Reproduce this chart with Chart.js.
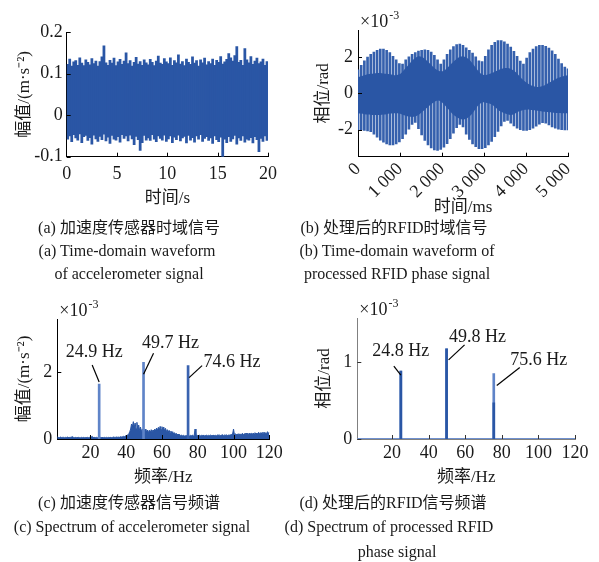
<!DOCTYPE html>
<html>
<head>
<meta charset="utf-8">
<script src="https://cdn.jsdelivr.net/npm/chart.js@4.4.1/dist/chart.umd.min.js"></script>
<style>
html, body { margin: 0; padding: 0; background: #fff; }
#page { position: relative; width: 599px; height: 562px; overflow: hidden;
        font-family: "Liberation Serif", "Noto Sans CJK SC", serif; color: #1a1a1a; }
canvas { position: absolute; left: 0; top: 0; }
.cap { position: absolute; font-size: 16px; line-height: 16px; white-space: nowrap; transform: translateX(-50%); }
</style>
</head>
<body>
<div id="page">
  <canvas id="ga" width="599" height="562"></canvas>
  <canvas id="gb" width="599" height="562"></canvas>
  <canvas id="gc" width="599" height="562"></canvas>
  <canvas id="gd" width="599" height="562"></canvas>

  <div class="cap" style="left:129px;top:220px">(a) 加速度传感器时域信号</div>
  <div class="cap" style="left:127px;top:243px">(a) Time-domain waveform</div>
  <div class="cap" style="left:129px;top:266px">of accelerometer signal</div>
  <div class="cap" style="left:394px;top:220px">(b) 处理后的RFID时域信号</div>
  <div class="cap" style="left:397px;top:243px">(b) Time-domain waveform of</div>
  <div class="cap" style="left:397px;top:266px">processed RFID phase signal</div>
  <div class="cap" style="left:129px;top:495px">(c) 加速度传感器信号频谱</div>
  <div class="cap" style="left:132px;top:519px">(c) Spectrum of accelerometer signal</div>
  <div class="cap" style="left:393px;top:495px">(d) 处理后的RFID信号频谱</div>
  <div class="cap" style="left:389px;top:519px">(d) Spectrum of processed RFID</div>
  <div class="cap" style="left:397px;top:544px">phase signal</div>
</div>

<script>
// ---- (a) 加速度传感器时域信号: 每 0.2 s 一段的上/下包络 (m/s^2)
const aStep = 0.2;
const aTop = [
  .122,.135,.118,.128,.131,.120,.138,.125,.119,.133,
  .127,.121,.136,.124,.130,.118,.129,.140,.167,.126,
  .120,.132,.125,.137,.119,.128,.134,.122,.130,.150,
  .124,.131,.118,.127,.139,.123,.129,.120,.133,.126,
  .121,.134,.127,.119,.130,.142,.125,.122,.136,.128,
  .124,.138,.120,.131,.126,.145,.123,.129,.119,.135,
  .127,.122,.140,.125,.131,.118,.133,.126,.137,.121,
  .129,.124,.135,.120,.132,.127,.141,.123,.128,.134,
  .148,.138,.130,.143,.165,.127,.132,.120,.160,.133,
  .126,.141,.122,.130,.137,.124,.128,.135,.120,.129
];
const aBot = [
  -.058,-.050,-.064,-.047,-.055,-.060,-.045,-.066,-.052,-.049,
  -.061,-.054,-.070,-.048,-.057,-.063,-.051,-.059,-.046,-.062,
  -.053,-.068,-.049,-.058,-.060,-.052,-.065,-.047,-.056,-.050,
  -.062,-.048,-.057,-.071,-.051,-.059,-.085,-.066,-.049,-.060,
  -.055,-.061,-.047,-.058,-.064,-.050,-.056,-.060,-.048,-.063,
  -.057,-.050,-.066,-.053,-.059,-.048,-.062,-.055,-.051,-.067,
  -.049,-.060,-.054,-.065,-.050,-.058,-.047,-.063,-.056,-.052,
  -.061,-.055,-.068,-.050,-.059,-.064,-.053,-.100,-.058,-.066,
  -.052,-.063,-.057,-.049,-.070,-.055,-.061,-.050,-.065,-.058,
  -.060,-.054,-.067,-.052,-.059,-.088,-.056,-.063,-.050,-.061
];
const aXTicks = [0, 5, 10, 15, 20];
const aYTicks = [-0.1, 0, 0.1, 0.2];

// ---- (b) 处理后的RFID时域信号: 包络 (x10^-3 rad), 67 个等间隔时刻 0..5000 ms
const bStep = 5000 / 66;
const bOuterTop = [
  1.30,1.55,1.80,2.00,2.15,2.28,2.38,2.44,2.45,2.38,2.25,2.05,1.85,1.65,1.62,1.85,2.02,
  2.15,2.25,2.33,2.38,2.40,2.38,2.28,2.10,1.85,1.62,1.85,2.15,2.40,2.58,2.70,2.72,2.65,
  2.52,2.38,2.22,2.02,1.80,1.75,2.05,2.40,2.65,2.82,2.92,2.92,2.85,2.72,2.55,2.32,2.05,
  1.78,1.62,1.95,2.25,2.45,2.58,2.65,2.65,2.60,2.50,2.35,2.15,1.90,1.65,1.45,1.35
];
const bOuterBot = [
  -2.00,-2.02,-2.05,-2.08,-2.12,-2.25,-2.42,-2.58,-2.70,-2.80,-2.85,-2.85,-2.80,-2.68,-2.50,-2.25,-1.98,
  -1.72,-1.60,-1.95,-2.30,-2.60,-2.85,-3.02,-3.12,-3.15,-3.10,-2.98,-2.78,-2.50,-2.20,-1.90,-1.72,-1.85,
  -2.25,-2.55,-2.80,-2.95,-3.05,-3.05,-3.00,-2.85,-2.65,-2.40,-2.10,-1.80,-1.55,-1.50,-1.65,-1.80,-1.92,
  -2.00,-2.05,-2.05,-2.00,-1.92,-1.82,-1.70,-1.62,-1.65,-1.75,-1.85,-1.92,-1.98,-2.00,-2.02,-2.02
];
const bInnerTop = [
  0.90,0.95,1.00,1.05,1.08,1.10,1.12,1.12,1.10,1.08,1.05,1.02,1.00,1.05,1.20,1.40,1.60,
  1.80,1.95,2.05,2.02,1.90,1.75,1.58,1.40,1.28,1.22,1.25,1.40,1.58,1.75,1.90,2.02,2.05,
  1.98,1.85,1.65,1.42,1.20,1.05,1.00,1.05,1.12,1.20,1.28,1.35,1.40,1.40,1.35,1.25,1.10,
  0.90,0.72,0.58,0.48,0.40,0.35,0.35,0.40,0.48,0.58,0.68,0.78,0.86,0.92,0.97,1.00
];
const bInnerBot = [
  -1.10,-1.12,-1.15,-1.17,-1.18,-1.20,-1.20,-1.19,-1.17,-1.15,-1.12,-1.10,-1.10,-1.12,-1.18,-1.24,-1.28,
  -1.30,-1.28,-1.20,-1.05,-0.90,-0.75,-0.60,-0.48,-0.40,-0.45,-0.60,-0.80,-1.00,-1.18,-1.30,-1.40,-1.45,
  -1.40,-1.28,-1.10,-0.85,-0.62,-0.50,-0.50,-0.55,-0.62,-0.75,-0.90,-1.02,-1.10,-1.16,-1.20,-1.15,-1.05,
  -0.98,-0.92,-0.90,-0.90,-0.92,-0.95,-0.97,-1.00,-1.02,-1.05,-1.06,-1.08,-1.09,-1.10,-1.10,-1.10
];
const bXTicks = [0, 1000, 2000, 3000, 4000, 5000];
const bYTicks = [-2, 0, 2];

// ---- (c) 加速度传感器信号频谱 (x10^-3 m/s^2), 0.5 Hz 分辨率, 0.5..120 Hz
const cStep = 0.5;
const cFloor = [
  .05,.04,.06,.05,.04,.05,.06,.04,.05,.05,
  .04,.05,.04,.06,.05,.04,.05,.05,.06,.07,
  .05,.04,.05,.04,.05,.04,.05,.04,.04,.05,
  .04,.05,.04,.04,.05,.04,.05,.04,.05,.04,
  .06,.08,.05,.04,.05,.04,.05,.04,.05,.05,
  .05,.04,.05,.04,.04,.05,.04,.05,.04,.05,
  .04,.05,.05,.04,.05,.06,.05,.05,.06,.05,
  .06,.05,.06,.07,.06,.07,.08,.07,.09,.10,
  .11,.13,.16,.22,.30,.45,.38,.52,.35,.48,
  .30,.50,.28,.42,.25,.36,.22,.30,.20,.28,
  .22,.30,.20,.27,.19,.26,.20,.28,.21,.27,
  .22,.30,.24,.33,.26,.35,.27,.38,.28,.37,
  .26,.36,.24,.32,.22,.28,.20,.26,.18,.24,
  .17,.22,.15,.19,.14,.17,.12,.15,.11,.13,
  .10,.12,.09,.11,.09,.10,.09,.11,.08,.10,
  .09,.11,.10,.12,.09,.10,.30,.12,.09,.11,
  .10,.12,.09,.11,.10,.12,.09,.11,.10,.12,
  .09,.11,.10,.12,.10,.11,.09,.12,.10,.11,
  .10,.12,.11,.13,.10,.12,.11,.13,.10,.12,
  .11,.13,.10,.12,.11,.13,.12,.14,.15,.30,
  .13,.16,.12,.15,.13,.16,.12,.15,.14,.17,
  .13,.16,.14,.18,.13,.17,.14,.18,.15,.17,
  .14,.18,.15,.19,.14,.18,.15,.20,.16,.19,
  .15,.20,.16,.21,.15,.19,.16,.22,.17,.20
];
const cPeakFreq = [24.9, 49.7, 74.6];
const cPeakAmp = [1.65, 2.3, 2.2];
const cPeakText = ['24.9 Hz', '49.7 Hz', '74.6 Hz'];
const cXTicks = [20, 40, 60, 80, 100, 120];
const cYTicks = [0, 2];

// ---- (d) 处理后的RFID信号频谱 (x10^-3 rad)
const dPeakFreq = [24.8, 49.8, 75.6];
const dPeakAmp = [0.88, 1.17, 0.85];
const dPeakDark = [0.88, 1.17, 0.47];
const dPeakText = ['24.8 Hz', '49.8 Hz', '75.6 Hz'];
const dFloorFreq = [1, 120];
const dFloorAmp = [0, 0];
const dXTicks = [20, 40, 60, 80, 100, 120];
const dYTicks = [0, 1];

const BLUE = '#2a56a5';
const LIGHT = '#5f84c8';
const FONT = '"Liberation Serif", "Noto Sans CJK SC", serif';
const INK = '#1a1a1a';

Chart.defaults.font.family = FONT;
Chart.defaults.color = INK;

function fixTicks(list) {
  return s => { s.ticks = list.map(v => ({ value: v })); };
}

// 内侧刻度线 + 指数标注 + 峰值标注
const extras = {
  id: 'extras',
  afterDatasetsDraw(chart, args, o) {
    const { ctx, chartArea: a, scales: { x, y } } = chart;
    ctx.save();
    ctx.strokeStyle = o.tickColor || '#000';
    ctx.lineWidth = 1;
    ctx.beginPath();
    x.ticks.forEach(t => {
      const px = Math.round(x.getPixelForValue(t.value)) + 0.5;
      if (px > a.left + 2) { ctx.moveTo(px, a.bottom); ctx.lineTo(px, a.bottom - 4); }
    });
    y.ticks.forEach(t => {
      const py = Math.round(y.getPixelForValue(t.value)) + 0.5;
      ctx.moveTo(a.left, py); ctx.lineTo(a.left + 4, py);
    });
    ctx.stroke();

    if (o.exponent) {
      ctx.fillStyle = INK;
      ctx.textBaseline = 'alphabetic';
      ctx.textAlign = 'left';
      ctx.font = '18px ' + FONT;
      const bx = a.left + 2, by = a.top - 3;
      ctx.fillText('×10', bx, by);
      const w = ctx.measureText('×10').width;
      ctx.font = '12px ' + FONT;
      ctx.fillText('-3', bx + w + 1, by - 8);
    }

    (o.notes || []).forEach(n => {
      const px = x.getPixelForValue(n.x), py = y.getPixelForValue(n.y);
      ctx.strokeStyle = '#000';
      ctx.lineWidth = 1.2;
      ctx.beginPath();
      ctx.moveTo(px + n.l[0], py + n.l[1]);
      ctx.lineTo(px + n.l[2], py + n.l[3]);
      ctx.stroke();
      ctx.fillStyle = INK;
      ctx.font = '18px ' + FONT;
      ctx.textAlign = 'center';
      ctx.textBaseline = 'middle';
      ctx.fillText(n.text, px + n.t[0], py + n.t[1]);
    });
    ctx.restore();
  }
};

// 画布全页, 用 padding 和固定轴宽把绘图区放到原图位置
function layoutFor(box, padL, xBottom) {
  return {
    padding: { left: padL, right: 599 - box.right, top: box.top, bottom: 562 - xBottom },
    yWidth: box.left - padL,
    xHeight: xBottom - box.bottom
  };
}

function baseOptions(L, xs, ys, plug) {
  return {
    responsive: false,
    animation: false,
    events: [],
    layout: { padding: L.padding },
    plugins: { legend: { display: false }, tooltip: { enabled: false }, extras: plug },
    scales: {
      x: Object.assign({
        type: 'linear',
        offset: false,
        grid: { display: false, drawTicks: false },
        border: { display: true, color: plug.axisColor || '#000', width: 1 },
        afterFit: s => { s.height = L.xHeight; }
      }, xs),
      y: Object.assign({
        type: 'linear',
        grid: { display: false, drawTicks: false },
        border: { display: true, color: plug.axisColor || '#000', width: 1 },
        afterFit: s => { s.width = L.yWidth; }
      }, ys)
    }
  };
}

const tickFont = { size: 18, family: FONT };
const titleFont = { size: 17, family: FONT };

// ---------- (a)
(function () {
  const L = layoutFor({ left: 66.7, right: 268, top: 32, bottom: 156.7 }, 0, 208.5);
  new Chart(document.getElementById('ga'), {
    type: 'line',
    data: { datasets: [{
      type: 'bar',
      data: aTop.map((v, i) => ({ x: i * aStep + aStep / 2, y: [aBot[i], v] })),
      backgroundColor: BLUE, barThickness: 2.1, grouped: false
    }] },
    options: baseOptions(L,
      { min: 0, max: 20, afterBuildTicks: fixTicks(aXTicks),
        ticks: { font: tickFont, padding: 7, maxRotation: 0 },
        title: { display: true, text: '时间/s', font: titleFont, padding: { top: 0, bottom: 0 } } },
      { min: -0.1, max: 0.2, afterBuildTicks: fixTicks(aYTicks),
        ticks: { font: tickFont, padding: 4, callback: v => v === 0 ? '0' : v.toFixed(1) },
        title: { display: true, text: '幅值/(m·s⁻²)', font: titleFont, padding: { top: 14, bottom: 0 } } },
      {}),
    plugins: [extras]
  });
})();

// ---------- (b)
(function () {
  const t = bOuterTop.map((v, i) => i * bStep);
  const L = layoutFor({ left: 358, right: 568, top: 30, bottom: 156.7 }, 300, 217.5);
  new Chart(document.getElementById('gb'), {
    type: 'line',
    data: {
      datasets: [
        { data: bInnerTop.map((v, i) => ({ x: t[i], y: v })), borderWidth: 0, borderColor: BLUE,
          backgroundColor: BLUE, pointRadius: 0, fill: '+1', tension: 0.3 },
        { data: bInnerBot.map((v, i) => ({ x: t[i], y: v })), borderWidth: 0, borderColor: BLUE,
          pointRadius: 0, fill: false, tension: 0.3 },
        { type: 'bar', data: bOuterTop.map((v, i) => ({ x: t[i], y: [bOuterBot[i], v] })),
          backgroundColor: '#3560ad', barThickness: 2, grouped: false }
      ]
    },
    options: baseOptions(L,
      { min: 0, max: 5000, afterBuildTicks: fixTicks(bXTicks),
        ticks: { font: tickFont, padding: 2, minRotation: 45, maxRotation: 45,
                 callback: v => v === 0 ? '0' : (v / 1000) + ' 000' },
        title: { display: true, text: '时间/ms', font: titleFont, padding: { top: 0, bottom: 0 } } },
      { min: -3.5, max: 3.5, afterBuildTicks: fixTicks(bYTicks),
        ticks: { font: tickFont, padding: 5 },
        title: { display: true, text: '相位/rad', font: titleFont, padding: { top: 13, bottom: 0 } } },
      { exponent: true }),
    plugins: [extras]
  });
})();

// ---------- (c)
(function () {
  const L = layoutFor({ left: 57.3, right: 269.3, top: 319, bottom: 439 }, 0, 487.5);
  const notes = [
    { l: [0, -2, -7, -19], t: [-5, -32] },
    { l: [0, 12, 10, -9], t: [27, -19] },
    { l: [1, 12, 14, 0], t: [44, -3] }
  ].map((n, i) => Object.assign(n, { x: cPeakFreq[i], y: cPeakAmp[i], text: cPeakText[i] }));
  new Chart(document.getElementById('gc'), {
    type: 'line',
    data: {
      datasets: [
        { type: 'bar', data: cPeakFreq.map((f, i) => ({ x: f, y: cPeakAmp[i] })),
          backgroundColor: [LIGHT, LIGHT, '#3a63b0'], barThickness: 2, grouped: false },
        { data: cFloor.map((v, i) => ({ x: (i + 1) * cStep, y: v })), borderColor: BLUE,
          backgroundColor: BLUE, borderWidth: 1, pointRadius: 0, fill: 'origin', tension: 0 }
      ]
    },
    options: baseOptions(L,
      { min: 1.5, max: 120, afterBuildTicks: fixTicks(cXTicks),
        ticks: { font: tickFont, padding: 3, maxRotation: 0 },
        title: { display: true, text: '频率/Hz', font: titleFont, padding: { top: 0, bottom: 0 } } },
      { min: 0, max: 3.6, afterBuildTicks: fixTicks(cYTicks),
        ticks: { font: tickFont, padding: 5 },
        title: { display: true, text: '幅值/(m·s⁻²)', font: titleFont, padding: { top: 14, bottom: 0 } } },
      { exponent: true, notes }),
    plugins: [extras]
  });
})();

// ---------- (d)
(function () {
  const L = layoutFor({ left: 357.3, right: 575, top: 318, bottom: 439 }, 300, 487.5);
  const notes = [
    { l: [0, 4, -7, -5], t: [0, -20] },
    { l: [2, 11, 18, -4], t: [31, -12] },
    { l: [3, 12, 26, -6], t: [45, -13] }
  ].map((n, i) => Object.assign(n, { x: dPeakFreq[i], y: dPeakAmp[i], text: dPeakText[i] }));
  new Chart(document.getElementById('gd'), {
    type: 'line',
    data: {
      datasets: [
        { type: 'bar', data: dPeakFreq.map((f, i) => ({ x: f, y: dPeakDark[i] })),
          backgroundColor: BLUE, barThickness: 2, grouped: false },
        { type: 'bar', data: dPeakFreq.map((f, i) => ({ x: f, y: dPeakAmp[i] })),
          backgroundColor: LIGHT, barThickness: 2, grouped: false },
        { data: dFloorFreq.map((f, i) => ({ x: f, y: dFloorAmp[i] })), borderColor: '#6f90cf',
          borderWidth: 2, pointRadius: 0 }
      ]
    },
    options: baseOptions(L,
      { min: 1, max: 120, afterBuildTicks: fixTicks(dXTicks),
        ticks: { font: tickFont, padding: 3, maxRotation: 0 },
        title: { display: true, text: '频率/Hz', font: titleFont, padding: { top: 0, bottom: 0 } } },
      { min: 0, max: 1.57, afterBuildTicks: fixTicks(dYTicks),
        ticks: { font: tickFont, padding: 5 },
        title: { display: true, text: '相位/rad', font: titleFont, padding: { top: 14, bottom: 0 } } },
      { exponent: true, notes, axisColor: '#808080', tickColor: '#333' }),
    plugins: [extras]
  });
})();
</script>
</body>
</html>
